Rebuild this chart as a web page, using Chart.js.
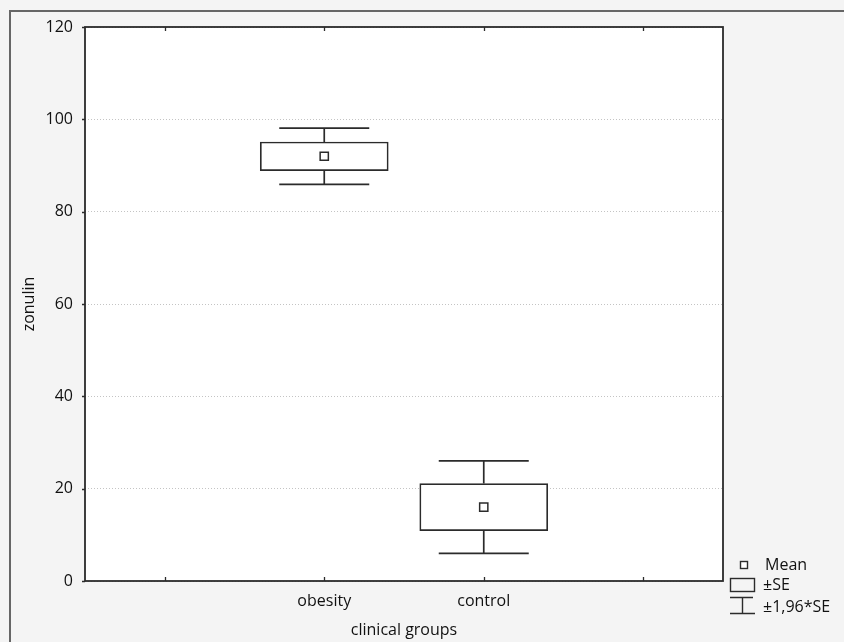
<!DOCTYPE html>
<html>
<head>
<meta charset="utf-8">
<script src="https://cdn.jsdelivr.net/npm/chart.js@4"></script>
<style>
html, body { margin: 0; padding: 0; background: #f4f4f4; overflow: hidden; }
#wrap { position: relative; width: 844px; height: 642px; overflow: hidden; }
#frame { position: absolute; left: 9px; top: 10px; width: 900px; height: 700px; border-left: 2px solid #666; border-top: 2px solid #666; }
canvas { position: absolute; left: 0; top: 0; }
</style>
</head>
<body>
<div id="wrap">
  <div id="frame"></div>
  <canvas id="myChart" width="844" height="642"></canvas>
</div>
<script>
// groups (blank slots on each side, as in the original plot)
var groups = ['', 'obesity', 'control', ''];
var means = [null, 92, 16, null];
var seLow = [null, 88.9, 10.9, null];
var seHigh = [null, 95.1, 21.1, null];
var ciLow = [null, 85.9, 6.0, null];
var ciHigh = [null, 98.1, 26.0, null];
var yTicks = [0, 20, 40, 60, 80, 100, 120];

var FONT = "'Open Sans', sans-serif";
var LINE = '#2b2b2b';

var boxes = groups.map(function (g, i) {
    return seLow[i] == null ? null : [seLow[i], seHigh[i]];
});

var boxPlot = {
    id: 'boxPlot',
    beforeDraw: function (chart) {
        var a = chart.chartArea, ctx = chart.ctx;
        ctx.save();
        ctx.fillStyle = '#fff';
        ctx.fillRect(a.left, a.top, a.right - a.left, a.bottom - a.top);
        ctx.restore();
    },
    afterDatasetsDraw: function (chart) {
        var ctx = chart.ctx, a = chart.chartArea;
        var xs = chart.scales.x, ys = chart.scales.y;
        ctx.save();
        ctx.strokeStyle = LINE;
        ctx.lineWidth = 1.7;

        // whiskers (±1,96*SE)
        for (var i = 0; i < groups.length; i++) {
            if (ciLow[i] == null) continue;
            var x = xs.getPixelForValue(i);
            var yHi = ys.getPixelForValue(ciHigh[i]);
            var yBoxHi = ys.getPixelForValue(seHigh[i]);
            var yLo = ys.getPixelForValue(ciLow[i]);
            var yBoxLo = ys.getPixelForValue(seLow[i]);
            ctx.beginPath();
            ctx.moveTo(x, yHi); ctx.lineTo(x, yBoxHi);
            ctx.moveTo(x, yBoxLo); ctx.lineTo(x, yLo);
            ctx.moveTo(x - 45, yHi); ctx.lineTo(x + 45, yHi);
            ctx.moveTo(x - 45, yLo); ctx.lineTo(x + 45, yLo);
            ctx.stroke();
        }

        // plot frame
        ctx.lineWidth = 1.8;
        ctx.strokeRect(a.left, a.top, a.right - a.left, a.bottom - a.top);

        // small inward tick marks on top and bottom
        ctx.lineWidth = 1.3;
        ctx.beginPath();
        for (var t = 0; t < xs.ticks.length; t++) {
            var tx = Math.round(xs.getPixelForTick(t)) + 0.5;
            ctx.moveTo(tx, a.bottom); ctx.lineTo(tx, a.bottom - 4);
            ctx.moveTo(tx, a.top); ctx.lineTo(tx, a.top + 4);
        }
        for (var k = 0; k < ys.ticks.length; k++) {
            var ty = Math.round(ys.getPixelForTick(k)) + 0.5;
            ctx.moveTo(a.left - 3, ty); ctx.lineTo(a.left, ty);
        }
        ctx.stroke();

        // legend
        var lx = a.right, ly = a.bottom;
        ctx.lineWidth = 1.4;
        ctx.fillStyle = '#fff';
        ctx.fillRect(lx + 17.5, ly - 19.5, 7, 7);
        ctx.strokeRect(lx + 17.5, ly - 19.5, 7, 7);
        ctx.strokeRect(lx + 7.5, ly - 2.5, 24, 13);
        ctx.beginPath();
        ctx.moveTo(lx + 7, ly + 16.5); ctx.lineTo(lx + 30, ly + 16.5);
        ctx.moveTo(lx + 19.5, ly + 16.5); ctx.lineTo(lx + 19.5, ly + 32.5);
        ctx.moveTo(lx + 7, ly + 32.5); ctx.lineTo(lx + 32, ly + 32.5);
        ctx.stroke();
        ctx.fillStyle = '#111';
        ctx.font = '16px ' + FONT;
        ctx.textBaseline = 'middle';
        ctx.textAlign = 'left';
        ctx.fillText('Mean', lx + 42, ly - 16);
        ctx.fillText('\u00b1SE', lx + 40, ly + 4);
        ctx.fillText('\u00b11,96*SE', lx + 40, ly + 26);
        ctx.restore();
    }
};

var ctx = document.getElementById('myChart').getContext('2d');
var myChart = new Chart(ctx, {
    data: {
        labels: groups,
        datasets: [{
            type: 'line',
            label: 'Mean',
            data: means,
            showLine: false,
            pointStyle: 'rect',
            pointRadius: 5.8,
            pointBorderWidth: 1.5,
            pointBackgroundColor: '#fff',
            pointBorderColor: LINE
        }, {
            type: 'bar',
            label: '\u00b1SE',
            data: boxes,
            barThickness: 128,
            backgroundColor: '#fff',
            borderColor: LINE,
            borderWidth: 1.7,
            borderSkipped: false
        }]
    },
    options: {
        responsive: false,
        animation: false,
        layout: { padding: { left: 0, top: 27, right: 121, bottom: 0 } },
        plugins: {
            legend: { display: false },
            tooltip: { enabled: false }
        },
        scales: {
            x: {
                type: 'category',
                offset: true,
                grid: { display: false, drawTicks: false },
                border: { display: false },
                ticks: { color: '#111', padding: 11, font: { family: FONT, size: 16 } },
                title: { display: true, text: 'clinical groups', color: '#111', padding: { top: 0, bottom: 2 }, font: { family: FONT, size: 16 } },
                afterFit: function (s) { s.height = 61; }
            },
            y: {
                min: 0,
                max: 120,
                afterBuildTicks: function (s) { s.ticks = yTicks.map(function (v) { return { value: v }; }); },
                grid: { color: '#c4c4c4', lineWidth: 1, drawTicks: false },
                border: { display: false, dash: [1, 2] },
                ticks: { color: '#111', padding: 12, font: { family: FONT, size: 16 } },
                title: { display: true, text: 'zonulin', color: '#111', padding: { top: 20, bottom: 0 }, font: { family: FONT, size: 16 } },
                afterFit: function (s) { s.width = 85; }
            }
        }
    },
    plugins: [boxPlot]
});
</script>
</body>
</html>
